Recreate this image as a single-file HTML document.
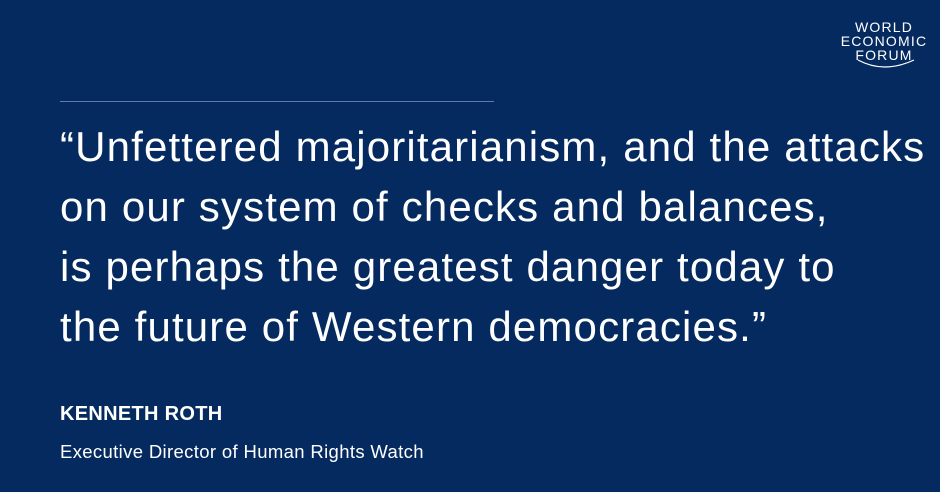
<!DOCTYPE html>
<html><head><meta charset="utf-8"><style>
body{margin:0;width:940px;height:492px;background:#052a5f;overflow:hidden;font-family:"Liberation Sans",sans-serif;color:#fff;position:relative}
.rule{position:absolute;left:60px;top:101px;width:434px;height:1px;background:#5c7cb0}
.q{position:absolute;left:60px;top:117px;font-size:42px;line-height:60px;white-space:nowrap;letter-spacing:1.15px}
.name{position:absolute;left:60px;top:403px;font-size:20px;font-weight:bold;letter-spacing:0.3px}
.title{position:absolute;left:60px;top:441px;font-size:18.5px;letter-spacing:0.35px}
.logo{position:absolute;left:832px;top:20px;width:104px;text-align:center;font-size:14px;line-height:14px;letter-spacing:1.2px}
</style></head><body>
<div class="logo">WORLD<br>ECONOMIC<br>FORUM
<svg width="104" height="14" style="position:absolute;left:0;top:38px"><path d="M26 2 Q52 16 82 2" stroke="#fff" stroke-width="1.2" fill="none"/></svg></div>
<div class="rule"></div>
<div class="q">“Unfettered majoritarianism, and the attacks<br>on our system of checks and balances,<br>is perhaps the greatest danger today to<br>the future of Western democracies.”</div>
<div class="name">KENNETH ROTH</div>
<div class="title">Executive Director of Human Rights Watch</div>
</body></html>
